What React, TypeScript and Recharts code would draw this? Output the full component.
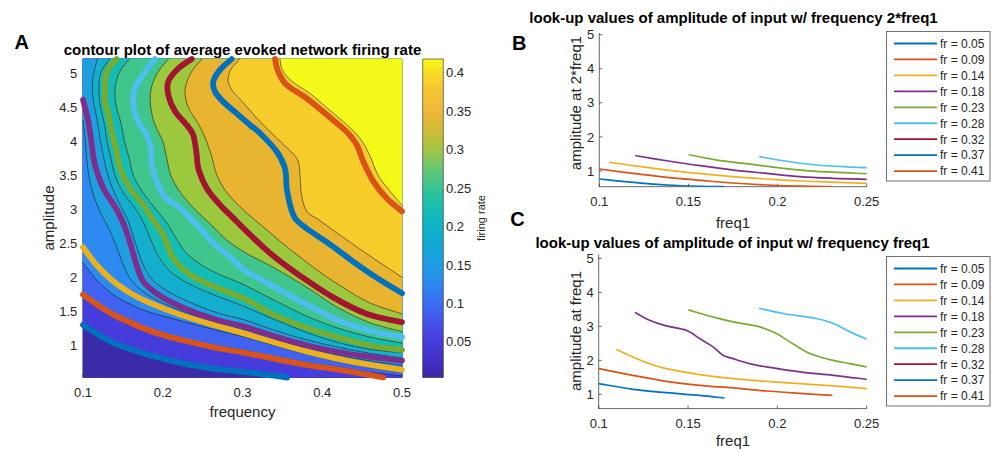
import React from "react";
import { ScatterChart, Scatter, XAxis, YAxis } from "recharts";

const FONT = '"Liberation Sans", Arial, Helvetica, sans-serif';
const INK = "#262626";

type P = [number, number];

// ---------- panel A : contour plot (frequency, amplitude) ----------
const freqDomain: P = [0.1, 0.5];
const ampDomain: P = [0.525, 5.21];
const freqTicks = [0.1, 0.2, 0.3, 0.4, 0.5];
const ampTicks = [1, 1.5, 2, 2.5, 3, 3.5, 4, 4.5, 5];

// colour of the band below the first level, then of the band above each level line
const bandColors = [
  "#3B2BA8", "#463CDC", "#4062F0", "#2C8AF0", "#1EA0E0", "#14AECE",
  "#13BCB4", "#40C68C", "#9CC83E", "#E9B530", "#F6CD2B", "#F5F91A",
];

// thin black level lines (start on left/top edge, end on bottom/right edge)
const level1: P[] = [[0.1, 1.28], [0.12, 1.13], [0.138, 1.015], [0.16, 0.92], [0.18, 0.845], [0.2, 0.785], [0.2216, 0.725], [0.242, 0.68], [0.263, 0.64], [0.283, 0.61], [0.303, 0.585], [0.325, 0.525]];
const level2: P[] = [[0.1, 1.78], [0.12, 1.61], [0.138, 1.48], [0.16, 1.36], [0.18, 1.26], [0.2, 1.18], [0.2216, 1.11], [0.263, 1.0], [0.303, 0.92], [0.34, 0.83], [0.38, 0.745], [0.42, 0.675], [0.46, 0.6], [0.5, 0.55]];
const level3: P[] = [[0.1, 2.21], [0.117, 1.964], [0.138, 1.744], [0.16, 1.6], [0.18, 1.499], [0.2216, 1.362], [0.263, 1.235], [0.303, 1.12], [0.34, 0.995], [0.38, 0.87], [0.42, 0.76], [0.46, 0.67], [0.5, 0.6]];
const level4: P[] = [[0.1, 4.3], [0.103, 4.0], [0.106, 3.6], [0.112, 3.25], [0.122, 2.95], [0.133, 2.7], [0.142, 2.45], [0.15, 2.2], [0.158, 2.0], [0.17, 1.84], [0.19, 1.68], [0.22, 1.52], [0.26, 1.36], [0.303, 1.22], [0.34, 1.085], [0.38, 0.955], [0.42, 0.85], [0.46, 0.77], [0.5, 0.705]];
const level5: P[] = [[0.118, 5.21], [0.112, 4.9], [0.113, 4.6], [0.118, 4.3], [0.122, 4.0], [0.127, 3.7], [0.134, 3.4], [0.145, 3.1], [0.156, 2.85], [0.163, 2.6], [0.17, 2.35], [0.178, 2.12], [0.19, 1.93], [0.21, 1.77], [0.24, 1.6], [0.27, 1.47], [0.303, 1.37], [0.34, 1.22], [0.38, 1.08], [0.42, 0.97], [0.46, 0.88], [0.5, 0.81]];
const level6: P[] = [[0.133, 5.21], [0.122, 5.0], [0.12, 4.75], [0.122, 4.5], [0.127, 4.25], [0.13, 4.0], [0.135, 3.75], [0.14, 3.5], [0.15, 3.25], [0.165, 3.02], [0.176, 2.8], [0.185, 2.55], [0.195, 2.3], [0.21, 2.08], [0.23, 1.92], [0.26, 1.76], [0.3, 1.58], [0.34, 1.38], [0.38, 1.19], [0.42, 1.04], [0.46, 0.94], [0.5, 0.89]];
const level7: P[] = [[0.158, 5.21], [0.145, 5.0], [0.14, 4.75], [0.142, 4.5], [0.148, 4.25], [0.152, 4.0], [0.158, 3.75], [0.163, 3.5], [0.175, 3.25], [0.19, 3.02], [0.205, 2.8], [0.218, 2.55], [0.23, 2.35], [0.25, 2.17], [0.275, 2.02], [0.3, 1.9], [0.34, 1.66], [0.38, 1.43], [0.42, 1.25], [0.46, 1.12], [0.5, 1.03]];
const level8: P[] = [[0.207, 5.21], [0.193, 5.0], [0.185, 4.75], [0.185, 4.5], [0.19, 4.25], [0.2, 4.0], [0.205, 3.75], [0.21, 3.5], [0.222, 3.25], [0.24, 3.0], [0.26, 2.78], [0.28, 2.55], [0.305, 2.35], [0.33, 2.2], [0.36, 2.0], [0.39, 1.78], [0.42, 1.55], [0.46, 1.33], [0.5, 1.2]];
const level9: P[] = [[0.249, 5.21], [0.235, 5.0], [0.228, 4.75], [0.232, 4.5], [0.245, 4.25], [0.255, 4.0], [0.262, 3.75], [0.268, 3.5], [0.28, 3.25], [0.3, 3.0], [0.325, 2.75], [0.35, 2.5], [0.375, 2.27], [0.4, 2.05], [0.43, 1.82], [0.46, 1.62], [0.5, 1.46]];
const level10: P[] = [[0.297, 5.21], [0.285, 5.05], [0.282, 4.88], [0.288, 4.73], [0.2969, 4.62], [0.3219, 4.29], [0.347, 4.0], [0.368, 3.75], [0.372, 3.51], [0.374, 3.21], [0.3805, 2.97], [0.395, 2.85], [0.4222, 2.62], [0.4515, 2.38], [0.4766, 2.18], [0.5, 2.0]];
const level11: P[] = [[0.347, 5.21], [0.35, 5.05], [0.362, 4.88], [0.385, 4.7], [0.41, 4.45], [0.435, 4.2], [0.45, 4.0], [0.46, 3.78], [0.47, 3.5], [0.484, 3.28], [0.5, 3.06]];
const levelLines = [level1, level2, level3, level4, level5, level6, level7, level8, level9, level10, level11];

// thick look-up contours
const lookupRates = [0.05, 0.09, 0.14, 0.18, 0.23, 0.28, 0.32, 0.37, 0.41];
const lookupColors = ["#0072BD", "#D95319", "#EDB120", "#7E2F8E", "#77AC30", "#4DBEEE", "#A2142F", "#0072BD", "#D95319"];
const fr005: P[] = [[0.1, 1.3], [0.12, 1.15], [0.138, 1.035], [0.16, 0.94], [0.18, 0.863], [0.2, 0.8], [0.2216, 0.741], [0.242, 0.695], [0.263, 0.657], [0.283, 0.63], [0.303, 0.605], [0.33, 0.565], [0.356, 0.525]];
const fr009: P[] = [[0.1, 1.744], [0.12, 1.58], [0.138, 1.45], [0.16, 1.33], [0.18, 1.23], [0.2, 1.15], [0.2216, 1.083], [0.263, 0.97], [0.303, 0.888], [0.34, 0.8], [0.38, 0.71], [0.42, 0.64], [0.455, 0.57], [0.4766, 0.525]];
const fr014: P[] = [[0.1, 2.44], [0.117, 2.18], [0.138, 1.94], [0.159, 1.77], [0.18, 1.64], [0.2216, 1.45], [0.263, 1.3], [0.303, 1.17], [0.34, 1.04], [0.38, 0.91], [0.42, 0.8], [0.46, 0.71], [0.5, 0.638]];
const fr018: P[] = [[0.1, 4.61], [0.1066, 4.29], [0.111, 3.95], [0.115, 3.65], [0.1255, 3.31], [0.142, 3.0], [0.152, 2.75], [0.161, 2.43], [0.167, 2.18], [0.1756, 1.94], [0.1924, 1.76], [0.2132, 1.62], [0.2426, 1.47], [0.2718, 1.36], [0.303, 1.27], [0.34, 1.13], [0.38, 1.0], [0.42, 0.9], [0.46, 0.83], [0.5, 0.775]];
const fr023: P[] = [[0.1422, 5.21], [0.1297, 5.02], [0.1276, 4.78], [0.1276, 4.58], [0.1318, 4.4], [0.136, 4.14], [0.1422, 3.85], [0.1464, 3.6], [0.1589, 3.31], [0.1756, 3.065], [0.1861, 2.87], [0.2007, 2.62], [0.2132, 2.28], [0.2342, 2.04], [0.2634, 1.866], [0.3031, 1.68], [0.3386, 1.45], [0.3805, 1.255], [0.4223, 1.108], [0.464, 0.985], [0.5, 0.932]];
const fr028: P[] = [[0.1903, 5.21], [0.1777, 5.02], [0.1652, 4.78], [0.1631, 4.53], [0.1694, 4.29], [0.1799, 4.09], [0.1861, 3.85], [0.186, 3.65], [0.2007, 3.21], [0.2216, 3.02], [0.2342, 2.87], [0.2467, 2.72], [0.2634, 2.5], [0.2843, 2.3], [0.303, 2.1], [0.3386, 1.866], [0.3805, 1.597], [0.4223, 1.352], [0.464, 1.205], [0.5, 1.117]];
const fr032: P[] = [[0.2363, 5.21], [0.2195, 5.07], [0.207, 4.88], [0.207, 4.68], [0.2154, 4.44], [0.23, 4.24], [0.2383, 4.09], [0.2426, 3.8], [0.2446, 3.6], [0.2551, 3.31], [0.2718, 3.065], [0.2885, 2.87], [0.31, 2.62], [0.34, 2.3], [0.3723, 2.02], [0.4141, 1.7], [0.456, 1.46], [0.5, 1.339]];
const fr037: P[] = [[0.2864, 5.21], [0.2718, 5.05], [0.2634, 4.88], [0.2655, 4.73], [0.276, 4.58], [0.2927, 4.41], [0.3094, 4.24], [0.3219, 4.12], [0.3429, 3.85], [0.3533, 3.6], [0.3554, 3.31], [0.3596, 3.065], [0.3658, 2.87], [0.38, 2.72], [0.41, 2.48], [0.44, 2.22], [0.47, 1.98], [0.5, 1.766]];
const fr041: P[] = [[0.3408, 5.21], [0.3449, 5.02], [0.3554, 4.83], [0.3805, 4.63], [0.4056, 4.39], [0.4306, 4.14], [0.4432, 3.95], [0.4515, 3.7], [0.464, 3.41], [0.4808, 3.16], [0.5, 2.97]];
const lookupA = [fr005, fr009, fr014, fr018, fr023, fr028, fr032, fr037, fr041];

// ---------- colorbar ----------
const rateDomain: P = [0.0035, 0.418];
const rateTicks = [0.05, 0.1, 0.15, 0.2, 0.25, 0.3, 0.35, 0.4];
const cbValues = [0.0035, 0.03, 0.055, 0.09, 0.12, 0.15, 0.18, 0.21, 0.24, 0.27, 0.3, 0.33, 0.35, 0.38, 0.4, 0.418];
const cbColors = ["#3E26A8", "#4332C8", "#4640DF", "#4062F0", "#2E84F2", "#1E9CE2", "#10AAD2", "#0EB8BE", "#25C3A0", "#5CC77A", "#A2C543", "#D6BA35", "#F0B73A", "#F6C630", "#F5DC27", "#F8FA14"];

// ---------- panels B and C : look-up curves (freq1, amplitude) ----------
const lookFreqDomain: P = [0.1, 0.25];
const lookFreqTicks = [0.1, 0.15, 0.2, 0.25];
const lookAmpTicks = [1, 2, 3, 4, 5];
const ampDomainB: P = [0.54, 5.05];
const ampDomainC: P = [0.58, 5.12];

const b005: P[] = [[0.1, 0.766], [0.119, 0.668], [0.138, 0.59], [0.157, 0.553], [0.17, 0.545]];
const b009: P[] = [[0.1, 1.06], [0.119, 0.93], [0.138, 0.815], [0.157, 0.727], [0.175, 0.649], [0.194, 0.59], [0.213, 0.556], [0.23, 0.545]];
const b014: P[] = [[0.106, 1.254], [0.119, 1.156], [0.138, 1.029], [0.157, 0.922], [0.175, 0.834], [0.194, 0.766], [0.213, 0.707], [0.25, 0.639]];
const b018: P[] = [[0.1206, 1.449], [0.1378, 1.302], [0.1565, 1.156], [0.1752, 1.029], [0.1939, 0.932], [0.2126, 0.834], [0.2313, 0.785], [0.25, 0.756]];
const b023: P[] = [[0.1505, 1.478], [0.1658, 1.322], [0.1845, 1.205], [0.2032, 1.078], [0.2219, 0.99], [0.25, 0.922]];
const b028: P[] = [[0.1901, 1.42], [0.2032, 1.302], [0.2219, 1.176], [0.2406, 1.117], [0.25, 1.098]];
const lookupB = [b005, b009, b014, b018, b023, b028, [], [], []];

const c005: P[] = [[0.1, 1.315], [0.1191, 1.147], [0.1378, 1.049], [0.1565, 0.97], [0.1701, 0.892]];
const c009: P[] = [[0.1, 1.757], [0.1191, 1.56], [0.1378, 1.383], [0.1565, 1.265], [0.1752, 1.187], [0.1939, 1.098], [0.2126, 1.03], [0.2304, 0.97]];
const c014: P[] = [[0.1101, 2.317], [0.1191, 2.1], [0.1284, 1.904], [0.1378, 1.757], [0.1565, 1.58], [0.1752, 1.462], [0.1939, 1.383], [0.2126, 1.315], [0.2313, 1.246], [0.25, 1.167]];
const c018: P[] = [[0.1206, 3.398], [0.1284, 3.18], [0.1378, 3.015], [0.149, 2.887], [0.1565, 2.64], [0.164, 2.396], [0.1696, 2.15], [0.1752, 2.05], [0.1845, 1.904], [0.1939, 1.806], [0.2126, 1.658], [0.2313, 1.56], [0.25, 1.442]];
const c023: P[] = [[0.1505, 3.477], [0.1658, 3.25], [0.1752, 3.133], [0.1901, 2.985], [0.1995, 2.789], [0.207, 2.543], [0.2163, 2.248], [0.2238, 2.1], [0.2313, 2.0], [0.2406, 1.904], [0.25, 1.806]];
const c028: P[] = [[0.1901, 3.526], [0.2032, 3.378], [0.2219, 3.231], [0.2313, 3.084], [0.2406, 2.838], [0.25, 2.622]];
const lookupC = [c005, c009, c014, c018, c023, c028, [], [], []];

// ---------- helpers ----------
const toPts = (arr: P[]) => arr.map(([f, a]) => ({ f, a }));
const noDot = () => <g />;

function smooth(pts: { x: number; y: number }[]) {
  if (!pts.length) return "";
  let d = `M${pts[0].x},${pts[0].y}`;
  for (let i = 0; i < pts.length - 1; i++) {
    const p0 = pts[i - 1] || pts[i];
    const p1 = pts[i];
    const p2 = pts[i + 1];
    const p3 = pts[i + 2] || p2;
    d += `C${p1.x + (p2.x - p0.x) / 6},${p1.y + (p2.y - p0.y) / 6},${p2.x - (p3.x - p1.x) / 6},${p2.y - (p3.y - p1.y) / 6},${p2.x},${p2.y}`;
  }
  return d;
}

const strokeLine = (color: string, width: number) => (p: any) => (
  <path d={smooth(p.points)} fill="none" stroke={color} strokeWidth={width} strokeLinecap="round" strokeLinejoin="round" />
);

const bandFill = (color: string, n: number) => (p: any) => {
  const pts = p.points;
  const d = smooth(pts.slice(0, n)) + pts.slice(n).map((q: any, i: number) => `${n || i ? "L" : "M"}${q.x},${q.y}`).join("") + "Z";
  return <path d={d} fill={color} stroke={color} strokeWidth={0.5} />;
};

// close a level line round the high (upper-right) side of the plot box
const [F0, F1] = freqDomain;
const [A0, A1] = ampDomain;
const corners: P[] = [[F1, A0], [F1, A1], [F0, A1], [F0, A0]];
function edgeOf([f, a]: P) {
  if (Math.abs(a - A0) < 1e-6) return 0;
  if (Math.abs(f - F1) < 1e-6) return 1;
  if (Math.abs(a - A1) < 1e-6) return 2;
  return 3;
}
function closeAbove(line: P[]): P[] {
  const out = [...line];
  const s = edgeOf(line[0]);
  let e = edgeOf(line[line.length - 1]);
  for (let k = 0; k < 4 && e !== s; k++) {
    out.push(corners[e]);
    e = (e + 1) % 4;
  }
  return out;
}

const tickFont = { fontSize: 13, fill: INK, fontFamily: FONT };
const axisStyle = { stroke: INK, strokeWidth: 0.7 };

function Label({ x, y, size, bold, rotate, color = INK, children }: any) {
  return (
    <div
      style={{
        position: "absolute", left: x, top: y, fontSize: size, fontWeight: bold ? 700 : 400,
        color, whiteSpace: "nowrap", lineHeight: 1,
        transform: `translate(-50%, -50%)${rotate ? " rotate(-90deg)" : ""}`,
      }}
    >
      {children}
    </div>
  );
}

function LegendBox({ top }: { top: number }) {
  return (
    <svg style={{ position: "absolute", left: 886, top }} width={105} height={151}>
      <rect x={0.5} y={0.5} width={103.5} height={149.5} fill="#fff" stroke="#707070" strokeWidth={1} />
      {lookupRates.map((r, i) => {
        const y = 12.5 + i * 15.95;
        return (
          <g key={r}>
            <line x1={8} x2={51} y1={y} y2={y} stroke={lookupColors[i]} strokeWidth={1.8} />
            <text x={54} y={y + 4.3} fontSize={12} fill={INK} fontFamily={FONT}>{`fr = ${r.toFixed(2)}`}</text>
          </g>
        );
      })}
    </svg>
  );
}

function LookupChart({ series, domain, top, height, margin }: any) {
  return (
    <div style={{ position: "absolute", left: 500, top }}>
      <ScatterChart width={498} height={height} margin={margin}>
        {series.map((s: P[], i: number) =>
          s.length ? (
            <Scatter key={i} data={toPts(s)} shape={noDot} line={strokeLine(lookupColors[i], 1.7)} isAnimationActive={false} />
          ) : null
        )}
        <XAxis dataKey="f" type="number" domain={lookFreqDomain} ticks={lookFreqTicks} interval={0} height={30}
          tickSize={-3} tickMargin={13.4} axisLine={axisStyle} tickLine={axisStyle} tick={tickFont} allowDataOverflow />
        <YAxis dataKey="a" type="number" domain={domain} ticks={lookAmpTicks} interval={0} width={40}
          tickSize={-3} tickMargin={8} axisLine={axisStyle} tickLine={axisStyle} tick={tickFont} allowDataOverflow />
      </ScatterChart>
    </div>
  );
}

export default function App() {
  const baseBox: P[] = [[F0, A0], [F1, A0], [F1, A1], [F0, A1]];
  const cbBox = [
    { x: 0, r: rateDomain[0] }, { x: 1, r: rateDomain[0] },
    { x: 1, r: rateDomain[1] }, { x: 0, r: rateDomain[1] },
  ];
  const span = rateDomain[1] - rateDomain[0];

  return (
    <div style={{ position: "fixed", left: 0, top: 0, width: 998, height: 453, background: "#fff", fontFamily: FONT, overflow: "hidden" }}>
      <svg width={0} height={0} style={{ position: "absolute" }}>
        <defs>
          <linearGradient id="parula" x1="0" y1="1" x2="0" y2="0">
            {cbValues.map((v, i) => (
              <stop key={v} offset={(v - rateDomain[0]) / span} stopColor={cbColors[i]} />
            ))}
          </linearGradient>
        </defs>
      </svg>

      {/* panel A */}
      <div style={{ position: "absolute", left: 0, top: 0 }}>
        <ScatterChart width={500} height={453} margin={{ top: 58, right: 97, bottom: 45.5, left: 43 }}>
          <Scatter xAxisId="b" yAxisId="l" data={toPts(baseBox)} shape={noDot} line={bandFill(bandColors[0], 0)} isAnimationActive={false} />
          {levelLines.map((ln, i) => (
            <Scatter key={`f${i}`} xAxisId="b" yAxisId="l" data={toPts(closeAbove(ln))} shape={noDot}
              line={bandFill(bandColors[i + 1], ln.length)} isAnimationActive={false} />
          ))}
          {levelLines.map((ln, i) => (
            <Scatter key={`k${i}`} xAxisId="b" yAxisId="l" data={toPts(ln)} shape={noDot}
              line={strokeLine("#1a1a1a", 0.6)} isAnimationActive={false} />
          ))}
          {lookupA.map((ln, i) => (
            <Scatter key={`c${i}`} xAxisId="b" yAxisId="l" data={toPts(ln)} shape={noDot}
              line={strokeLine(lookupColors[i], 5.8)} isAnimationActive={false} />
          ))}
          <XAxis xAxisId="b" dataKey="f" type="number" domain={freqDomain} ticks={freqTicks} interval={0} height={30}
            tickSize={-4} tickMargin={14.6} axisLine={axisStyle} tickLine={axisStyle} tick={tickFont} />
          <XAxis xAxisId="t" orientation="top" dataKey="f" type="number" domain={freqDomain} ticks={freqTicks} interval={0} height={1}
            tickSize={-4} axisLine={axisStyle} tickLine={axisStyle} tick={false} />
          <YAxis yAxisId="l" dataKey="a" type="number" domain={ampDomain} ticks={ampTicks} interval={0} width={40}
            tickSize={-4} tickMargin={9.7} axisLine={axisStyle} tickLine={axisStyle} tick={tickFont} />
          <YAxis yAxisId="r" orientation="right" dataKey="a" type="number" domain={ampDomain} ticks={ampTicks} interval={0} width={1}
            tickSize={-4} axisLine={axisStyle} tickLine={axisStyle} tick={false} />
        </ScatterChart>
      </div>

      {/* colorbar */}
      <div style={{ position: "absolute", left: 400, top: 0 }}>
        <ScatterChart width={100} height={453} margin={{ top: 59, right: 26.7, bottom: 75.5, left: 22.7 }}>
          <Scatter data={cbBox} shape={noDot}
            line={(p: any) => <path d={p.points.map((q: any, i: number) => `${i ? "L" : "M"}${q.x},${q.y}`).join("") + "Z"} fill="url(#parula)" stroke={INK} strokeWidth={0.6} />}
            isAnimationActive={false} />
          <XAxis dataKey="x" type="number" domain={[0, 1]} hide />
          <YAxis dataKey="r" type="number" orientation="right" domain={rateDomain} ticks={rateTicks} interval={0} width={30}
            tickSize={-3} tickMargin={5.7} axisLine={false} tickLine={axisStyle} tick={tickFont} />
        </ScatterChart>
      </div>

      <LookupChart series={lookupB} domain={ampDomainB} top={0} height={230} margin={{ top: 33, right: 131.3, bottom: 13.3, left: 59.3 }} />
      <LookupChart series={lookupC} domain={ampDomainC} top={230} height={223} margin={{ top: 24.3, right: 131.3, bottom: 14.4, left: 58.7 }} />
      <LegendBox top={31} />
      <LegendBox top={255.5} />

      <Label x={21.7} y={42.2} size={20} bold color="#000">A</Label>
      <Label x={519.2} y={43.3} size={20} bold color="#000">B</Label>
      <Label x={517.5} y={218.7} size={20} bold color="#000">C</Label>

      <Label x={242.5} y={48.5} size={15} bold color="#000">contour plot of average evoked network firing rate</Label>
      <Label x={733.5} y={17} size={15} bold color="#000">look-up values of amplitude of input w/ frequency 2*freq1</Label>
      <Label x={732.5} y={242} size={15} bold color="#000">look-up values of amplitude of input w/ frequency freq1</Label>

      <Label x={242.5} y={410.5} size={15}>frequency</Label>
      <Label x={47.5} y={218} size={15} rotate>amplitude</Label>
      <Label x={481} y={218} size={11} rotate>firing rate</Label>
      <Label x={733} y={221.5} size={15}>freq1</Label>
      <Label x={575} y={103} size={15} rotate>amplitude at 2*freq1</Label>
      <Label x={733} y={440} size={15}>freq1</Label>
      <Label x={575} y={331} size={15} rotate>amplitude at freq1</Label>
    </div>
  );
}
